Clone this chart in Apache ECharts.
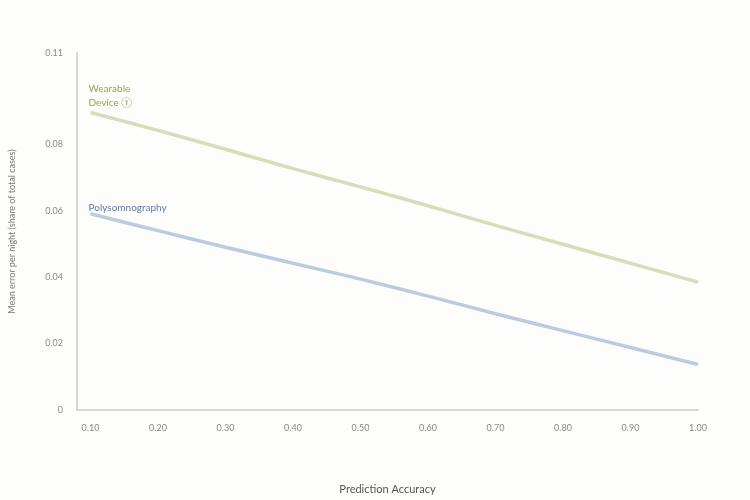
<!DOCTYPE html>
<html>
<head>
<meta charset="utf-8">
<script src="https://cdn.jsdelivr.net/npm/echarts@6/dist/echarts.min.js"></script>
<style>
html,body{margin:0;padding:0;background:#fdfdfb;}
#c{width:750px;height:500px;}
</style>
</head>
<body>
<div id="c"></div>
<script>
const categories = ['0.10','0.20','0.30','0.40','0.50','0.60','0.70','0.80','0.90','1.00'];
const wearableName = 'Wearable\nDevice ①';
const wearable = [0.0896,0.0842,0.0785,0.0727,0.0672,0.0615,0.0556,0.0499,0.0442,0.0385];
const psgName = 'Polysomnography';
const psg = [0.0591,0.0540,0.0490,0.0442,0.0394,0.0343,0.0290,0.0239,0.0188,0.0137];
const yTicks = [0, 0.02, 0.04, 0.06, 0.08];
const yMax = 0.1075;

function toPoints(arr){ return arr.map((v,i)=>[i,v]); }
function firstLabel(pts, color, offset){
  pts[0] = {value: pts[0], label:{show:true, position:'top', align:'left', offset:offset,
    color:color, fontSize:10, fontFamily:'Lato', lineHeight:14,
    formatter: p => p.seriesName}};
  return pts;
}

const chart = echarts.init(document.getElementById('c'));
chart.setOption({
  backgroundColor:'#fdfdfb',
  animation:false,
  grid:{left:75, right:52, top:53, bottom:87},
  xAxis:{
    type:'value', min:-0.2, max:categories.length-1, minInterval:1, maxInterval:1,
    name:'Prediction Accuracy', nameLocation:'middle', nameGap:74,
    nameTextStyle:{color:'#555', fontSize:11, fontFamily:'Lato'},
    axisLine:{show:true, onZero:false, lineStyle:{color:'#d6d9dc', width:2}},
    axisTick:{show:false},
    splitLine:{show:false},
    axisLabel:{color:'#8a8a8a', fontSize:9, fontFamily:'Lato', margin:14, hideOverlap:false,
      formatter: v => Number.isInteger(v) ? categories[v] : ''}
  },
  yAxis:{
    type:'value', min:0, max:yMax, minInterval:0.02, maxInterval:0.02,
    name:'Mean error per night (share of total cases)', nameLocation:'middle', nameGap:60,
    nameTextStyle:{color:'#777', fontSize:9, fontFamily:'Lato'},
    axisLine:{show:true, onZero:false, lineStyle:{color:'#d6d9dc', width:2}},
    axisTick:{show:false},
    splitLine:{show:false},
    axisLabel:{color:'#8a8a8a', fontSize:9, fontFamily:'Lato', margin:14,
      formatter: v => {
        if (v === 0) return '0';
        if (Math.abs(v - yMax) < 1e-9) return v.toFixed(2);
        return yTicks.some(t => Math.abs(t - v) < 1e-9) ? v.toFixed(2) : '';
      }}
  },
  series:[
    {name:wearableName, type:'line', smooth:0.4, symbol:'circle', symbolSize:0.1, showSymbol:true,
     lineStyle:{color:'#d9dcb6', width:3.5},
     itemStyle:{color:'#d9dcb6'},
     data:firstLabel(toPoints(wearable), '#9c9f55', [-2,2])},
    {name:psgName, type:'line', smooth:0.4, symbol:'circle', symbolSize:0.1, showSymbol:true,
     lineStyle:{color:'#bccbe0', width:3.5},
     itemStyle:{color:'#bccbe0'},
     data:firstLabel(toPoints(psg), '#5a7bb0', [-2,6])}
  ]
});
</script>
</body>
</html>
